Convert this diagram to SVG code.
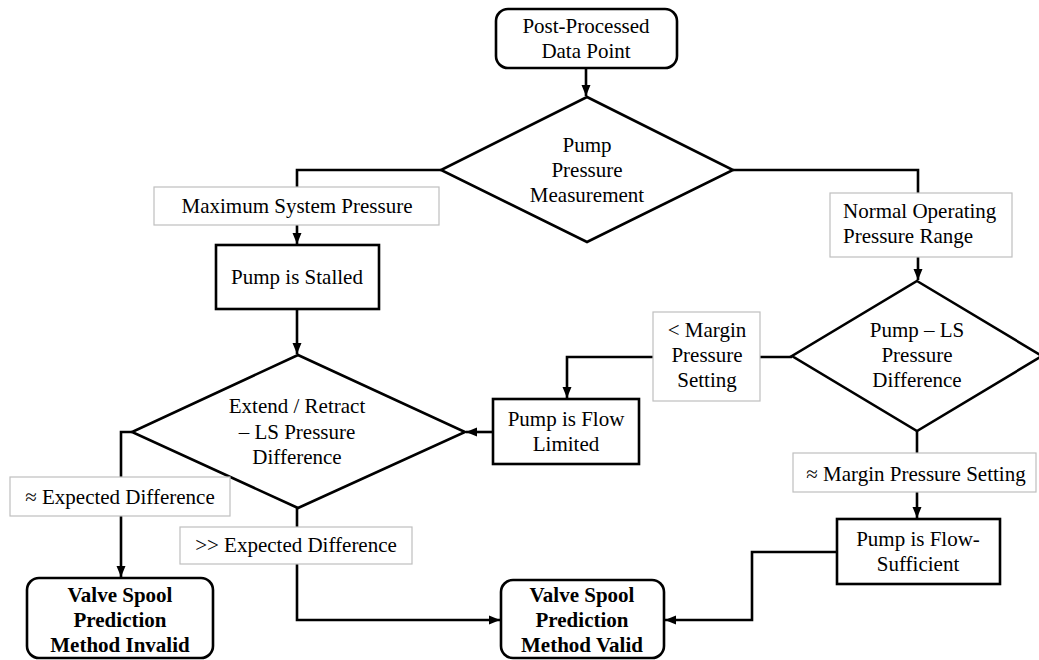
<svg xmlns="http://www.w3.org/2000/svg" width="1039" height="660" viewBox="0 0 1039 660" font-family="'Liberation Serif', 'Times New Roman', 'DejaVu Serif', serif">
<style>
text{font-family:'Liberation Serif','Times New Roman','DejaVu Serif',serif;font-size:21px;fill:#000;text-anchor:middle}
.b{font-weight:bold}
.n{fill:#fff;stroke:#000;stroke-width:2.6}
.l{fill:#fff;stroke:#bfbfbf;stroke-width:1.2}
.c{fill:none;stroke:#000;stroke-width:2.6}
</style>
<defs>
<marker id="a" markerUnits="userSpaceOnUse" markerWidth="12" markerHeight="10" refX="11" refY="5" orient="auto">
<path d="M0,0.5 L11,5 L0,9.5 Z" fill="#000"/>
</marker>
</defs>
<g id="connectors">
<path class="c" d="M586,68 V96" marker-end="url(#a)"/>
<path class="c" d="M441,170 H297 V244" marker-end="url(#a)"/>
<path class="c" d="M297,309 V354" marker-end="url(#a)"/>
<path class="c" d="M733,170 H918 V280" marker-end="url(#a)"/>
<path class="c" d="M792,357 H567 V398" marker-end="url(#a)"/>
<path class="c" d="M493,432 H466" marker-end="url(#a)"/>
<path class="c" d="M132,432 H121 V577" marker-end="url(#a)"/>
<path class="c" d="M297,508 V620 H500" marker-end="url(#a)"/>
<path class="c" d="M917,431 V518" marker-end="url(#a)"/>
<path class="c" d="M837,552 H752 V620 H665" marker-end="url(#a)"/>
</g>
<g id="start">
<rect class="n" x="496" y="9" width="181" height="59" rx="12"/>
<text x="586" y="33">Post-Processed</text>
<text x="586" y="58">Data Point</text>
</g>
<g id="pumpPressure">
<path class="n" d="M587,97 L733,170 L587,242 L441,170 Z"/>
<text x="587" y="152">Pump</text>
<text x="587" y="177">Pressure</text>
<text x="587" y="202">Measurement</text>
</g>
<g id="lblMax">
<rect class="l" x="154" y="187" width="285" height="38"/>
<text x="297" y="213">Maximum System Pressure</text>
</g>
<g id="lblNormal">
<rect class="l" x="830" y="193" width="182" height="64"/>
<text x="843" y="218" style="text-anchor:start">Normal Operating</text>
<text x="843" y="243" style="text-anchor:start">Pressure Range</text>
</g>
<g id="stalled">
<rect class="n" x="216" y="245" width="163" height="64"/>
<text x="297" y="284">Pump is Stalled</text>
</g>
<g id="pumpLS">
<path class="n" d="M917,281 L1042,356 L917,431 L792,356 Z"/>
<text x="917" y="337">Pump – LS</text>
<text x="917" y="362">Pressure</text>
<text x="917" y="387">Difference</text>
</g>
<g id="lblLessMargin">
<rect class="l" x="653" y="312" width="107" height="89"/>
<text x="707" y="337">&lt; Margin</text>
<text x="707" y="362">Pressure</text>
<text x="707" y="387">Setting</text>
</g>
<g id="flowLimited">
<rect class="n" x="493" y="399" width="146" height="65"/>
<text x="566" y="426">Pump is Flow</text>
<text x="566" y="451">Limited</text>
</g>
<g id="extendRetract">
<path class="n" d="M298,355 L465,432 L298,508 L132,432 Z"/>
<text x="297" y="413">Extend / Retract</text>
<text x="297" y="439">– LS Pressure</text>
<text x="297" y="464">Difference</text>
</g>
<g id="lblApproxExpected">
<rect class="l" x="10" y="477" width="220" height="39"/>
<text x="120" y="504">≈ Expected Difference</text>
</g>
<g id="lblMuchExpected">
<rect class="l" x="180" y="527" width="232" height="37"/>
<text x="296" y="552">&gt;&gt; Expected Difference</text>
</g>
<g id="lblApproxMargin">
<rect class="l" x="793" y="453" width="243" height="39"/>
<text x="916" y="481">≈ Margin Pressure Setting</text>
</g>
<g id="flowSufficient">
<rect class="n" x="837" y="519" width="163" height="65"/>
<text x="918" y="546">Pump is Flow-</text>
<text x="918" y="571">Sufficient</text>
</g>
<g id="invalid">
<rect class="n" x="27" y="578" width="186" height="80" rx="12"/>
<text class="b" x="120" y="602">Valve Spool</text>
<text class="b" x="120" y="627">Prediction</text>
<text class="b" x="120" y="652">Method Invalid</text>
</g>
<g id="valid">
<rect class="n" x="501" y="580" width="163" height="78" rx="12"/>
<text class="b" x="582" y="602">Valve Spool</text>
<text class="b" x="582" y="627">Prediction</text>
<text class="b" x="582" y="652">Method Valid</text>
</g>
</svg>
